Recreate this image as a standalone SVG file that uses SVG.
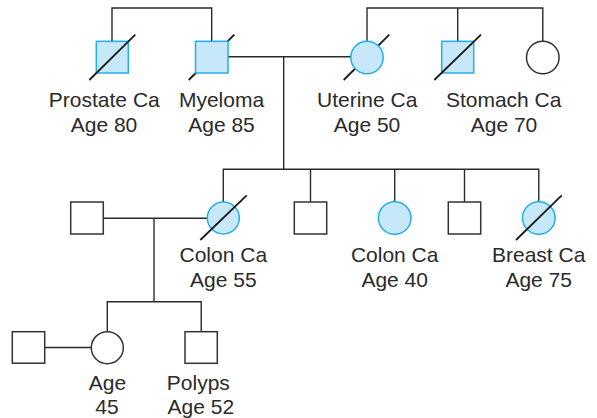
<svg xmlns="http://www.w3.org/2000/svg" width="597" height="418" viewBox="0 0 597 418">
<style>
.ln{stroke:#2a2a2a;stroke-width:1.4;fill:none}
.sl{stroke:#1a1a1a;stroke-width:1.8;fill:none}
.aff{fill:#c6e8f8;stroke:#22b0e6;stroke-width:1.5}
.un{fill:#fff;stroke:#333;stroke-width:1.5}
text{font-family:"Liberation Sans",Arial,Helvetica,sans-serif;font-size:21px;fill:#2a2a2a;text-anchor:middle}
</style>
<rect width="597" height="418" fill="#fff"/>
<g id="connectors">
<polyline class="ln" points="112,41 112,8 211.7,8 211.7,41"/>
<line class="ln" x1="228" y1="56.7" x2="351" y2="56.7"/>
<line class="ln" x1="283.7" y1="56.7" x2="283.7" y2="169.3"/>
<polyline class="ln" points="367,41.5 367,8 542.8,8 542.8,41"/>
<line class="ln" x1="457.7" y1="8" x2="457.7" y2="41"/>
<polyline class="ln" points="223.3,202 223.3,169.3 538.8,169.3 538.8,202"/>
<line class="ln" x1="310.5" y1="169.3" x2="310.5" y2="202"/>
<line class="ln" x1="394.7" y1="169.3" x2="394.7" y2="202"/>
<line class="ln" x1="464.5" y1="169.3" x2="464.5" y2="202"/>
<line class="ln" x1="103.3" y1="218.3" x2="207.3" y2="218.3"/>
<line class="ln" x1="154" y1="218.3" x2="154" y2="301.7"/>
<polyline class="ln" points="107.3,331.7 107.3,301.7 201.2,301.7 201.2,331.7"/>
<line class="ln" x1="44.7" y1="347.5" x2="91.3" y2="347.5"/>
</g>
<g id="prostate">
<rect class="aff" x="96.3" y="41.3" width="32" height="31.7"/>
<line class="sl" x1="89.3" y1="80" x2="135.3" y2="34.7"/>
<text x="104.3" y="107">Prostate Ca</text>
<text x="104" y="131.5">Age 80</text>
</g>
<g id="myeloma">
<line class="sl" x1="188.7" y1="80" x2="234.3" y2="34.7"/>
<rect class="aff" x="195.5" y="41.3" width="32.5" height="31.7"/>
<text x="221.5" y="107">Myeloma</text>
<text x="221.5" y="131.5">Age 85</text>
</g>
<g id="uterine">
<line class="sl" x1="343.7" y1="80" x2="389.3" y2="34.7"/>
<circle class="aff" cx="367" cy="57.5" r="16.2"/>
<text x="367.2" y="107">Uterine Ca</text>
<text x="367" y="131.5">Age 50</text>
</g>
<g id="stomach">
<rect class="aff" x="441.7" y="41.3" width="32" height="31.7"/>
<line class="sl" x1="434.3" y1="80" x2="481" y2="34.7"/>
<text x="503.7" y="107">Stomach Ca</text>
<text x="504" y="131.5">Age 70</text>
</g>
<g id="aunt">
<circle class="un" cx="542.8" cy="57.5" r="16.3"/>
</g>
<g id="spouse1">
<rect class="un" x="70.7" y="202" width="32.6" height="32"/>
</g>
<g id="colon55">
<circle class="aff" cx="223.3" cy="218" r="16"/>
<line class="sl" x1="200.3" y1="240" x2="246.7" y2="195.3"/>
<text x="223.3" y="261.5">Colon Ca</text>
<text x="223.3" y="287">Age 55</text>
</g>
<g id="brother1">
<rect class="un" x="294.3" y="202" width="32.4" height="32"/>
</g>
<g id="colon40">
<circle class="aff" cx="394.7" cy="218" r="16.3"/>
<text x="394.7" y="261.5">Colon Ca</text>
<text x="394.7" y="287">Age 40</text>
</g>
<g id="brother2">
<rect class="un" x="448.3" y="202" width="32.4" height="32"/>
</g>
<g id="breast">
<circle class="aff" cx="538.8" cy="218" r="16.3"/>
<line class="sl" x1="516" y1="240" x2="561.7" y2="195.3"/>
<text x="538.7" y="261.5">Breast Ca</text>
<text x="538.7" y="287">Age 75</text>
</g>
<g id="spouse2">
<rect class="un" x="12.3" y="331.7" width="32.4" height="31.5"/>
</g>
<g id="daughter">
<circle class="un" cx="107.3" cy="347.7" r="16"/>
<text x="107.5" y="389.8">Age</text>
<text x="107" y="414">45</text>
</g>
<g id="son">
<rect class="un" x="185" y="331.7" width="32.3" height="31.6"/>
<text x="198.3" y="389.8">Polyps</text>
<text x="200.8" y="414">Age 52</text>
</g>
</svg>
